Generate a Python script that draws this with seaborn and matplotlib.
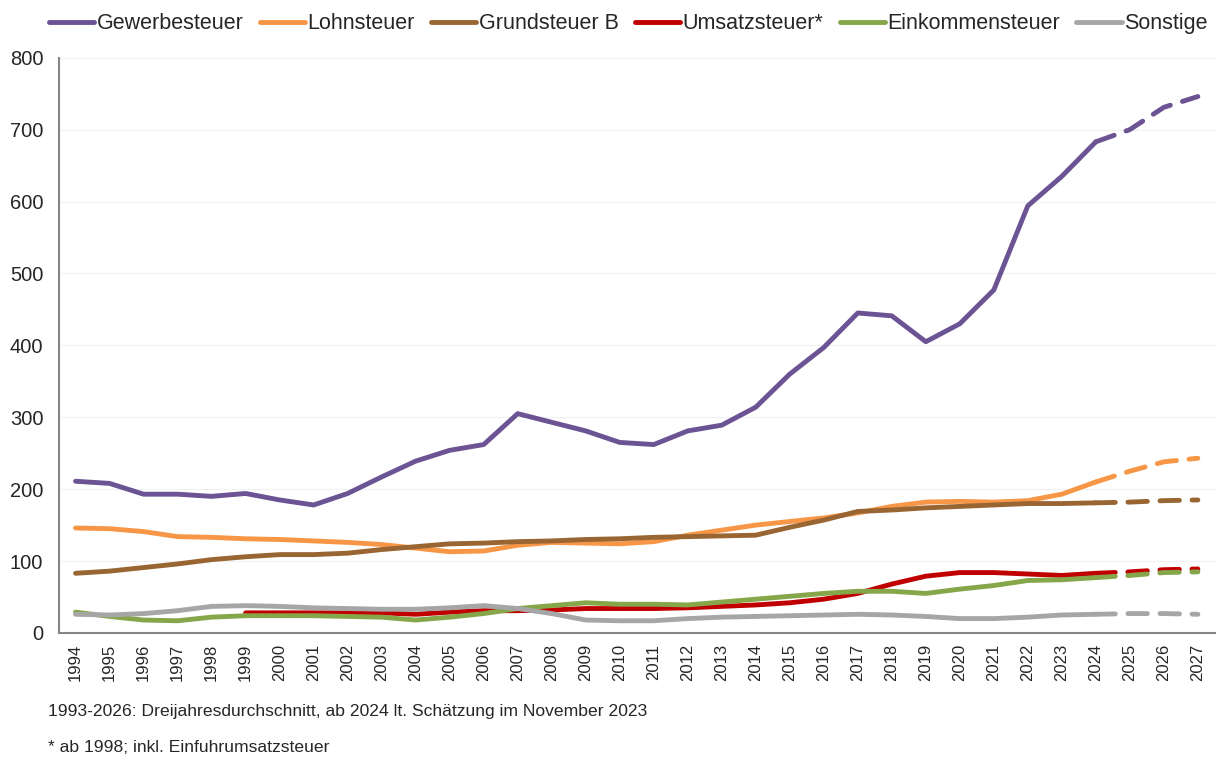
import numpy as np
import matplotlib
matplotlib.use('Agg')
import matplotlib.pyplot as plt
import seaborn as sns

# Data
years = list(range(1994, 2028))

gewerbesteuer = [211, 208, 193, 193, 190, 194, 185, 178, 194, 217, 239, 254, 262, 305, 293, 281,
                 265, 262, 281, 289, 314, 360, 397, 445, 441, 405, 430, 477, 594, 635, 683, 700,
                 731, 746]
lohnsteuer = [146, 145, 141, 134, 133, 131, 130, 128, 126, 123, 118, 113, 114, 122, 126, 125,
              124, 127, 136, 143, 150, 155, 160, 167, 176, 182, 183, 182, 184, 193, 210, 225,
              238, 243]
grundsteuer_b = [83, 86, 91, 96, 102, 106, 109, 109, 111, 116, 120, 124, 125, 127, 128, 130,
                 131, 133, 134, 135, 136, 147, 157, 169, 171, 174, 176, 178, 180, 180, 181, 182,
                 184, 185]
# Umsatzsteuer starts in 1999 (index 5)
umsatzsteuer = [np.nan] * 5 + [28, 28, 28, 28, 28, 26, 29, 31, 31, 32, 34,
                               34, 34, 35, 37, 39, 42, 47, 55, 68, 79, 84, 84, 82, 80, 83, 85,
                               88, 89]
einkommensteuer = [29, 23, 18, 17, 22, 24, 24, 24, 23, 22, 18, 22, 27, 34, 38, 42,
                   40, 40, 39, 43, 47, 51, 55, 58, 58, 55, 61, 66, 73, 74, 77, 80,
                   84, 85]
sonstige = [26, 25, 27, 31, 37, 38, 37, 35, 34, 33, 33, 35, 38, 34, 27, 18,
            17, 17, 20, 22, 23, 24, 25, 26, 25, 23, 20, 20, 22, 25, 26, 27,
            27, 26]

series = [
    ('Gewerbesteuer', gewerbesteuer, '#6B5394'),
    ('Lohnsteuer', lohnsteuer, '#F79646'),
    ('Grundsteuer B', grundsteuer_b, '#996633'),
    ('Umsatzsteuer*', umsatzsteuer, '#C00000'),
    ('Einkommensteuer', einkommensteuer, '#86A64A'),
    ('Sonstige', sonstige, '#A6A6A6'),
]

forecast_start = years.index(2024)


def main():
    sns.set_style('white')
    plt.rcParams['font.family'] = ['Liberation Sans', 'DejaVu Sans']

    fig = plt.figure(figsize=(12.2, 7.63), dpi=100)
    ax = fig.add_axes([0.048, 0.1704, 0.9478, 0.754])

    pos = np.arange(len(years))
    lw = 3.5
    handles = []
    for name, vals, color in series:
        v = np.array(vals, dtype=float)
        mask = ~np.isnan(v)
        solid = mask & (pos <= forecast_start)
        dashed = mask & (pos >= forecast_start)
        sns.lineplot(x=pos[solid], y=v[solid], ax=ax, color=color, linewidth=lw,
                     solid_capstyle='round', solid_joinstyle='round')
        ln = sns.lineplot(x=pos[dashed], y=v[dashed], ax=ax, color=color, linewidth=lw)
        ln.lines[-1].set_dashes((4, 2.6))
        ln.lines[-1].set_dash_capstyle('round')
        handles.append(plt.Line2D([], [], color=color, linewidth=lw, solid_capstyle='round'))

    ax.set_xlim(-0.5, len(years) - 0.5)
    ax.set_ylim(0, 800)
    ax.set_yticks(range(0, 801, 100))
    ax.set_xticks(pos)
    ax.set_xticklabels([str(y) for y in years], rotation=90, fontsize=12)
    ax.set_xticks(np.arange(-0.5, len(years), 1), minor=True)
    ax.tick_params(axis='x', which='major', length=0, pad=8)
    ax.tick_params(axis='x', which='minor', length=6, width=1.3, color='#868686', direction='out')
    ax.tick_params(axis='y', length=5, width=1.3, color='#868686', direction='out', labelsize=14.5, pad=6)
    ax.grid(axis='y', color='#F0F0F0', linewidth=0.8)
    ax.set_axisbelow(True)

    for side in ['top', 'right']:
        ax.spines[side].set_visible(False)
    for side in ['left', 'bottom']:
        ax.spines[side].set_color('#868686')
        ax.spines[side].set_linewidth(1.5)
    ax.set_xlabel('')
    ax.set_ylabel('')

    fig.legend(handles, [s[0] for s in series], loc='upper center', bbox_to_anchor=(0.515, 1.008),
               ncol=6, frameon=False, fontsize=15.5, handlelength=2.1, handletextpad=0.12,
               columnspacing=0.75)

    fig.text(0.039, 0.068, '1993-2026: Dreijahresdurchschnitt, ab 2024 lt. Schätzung im November 2023',
             fontsize=12.6, va='center')
    fig.text(0.039, 0.02, '* ab 1998; inkl. Einfuhrumsatzsteuer', fontsize=12.6, va='center')

    fig.savefig('out.png', dpi=100)


if __name__ == '__main__':
    main()
